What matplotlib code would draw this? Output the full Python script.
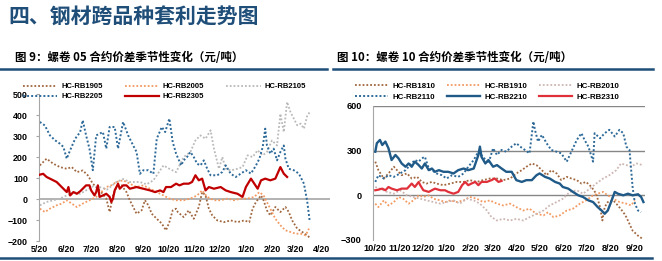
import numpy as np
import pandas as pd
import matplotlib
matplotlib.use('Agg')
import matplotlib.pyplot as plt
from matplotlib.lines import Line2D

plt.rcParams['font.family'] = ['Liberation Sans', 'DejaVu Sans']
plt.rcParams['font.weight'] = 'bold'
CJK = ['Noto Sans CJK SC', 'DejaVu Sans']

# ---------------- left panel: 05 contracts, x = days after 5/20 ----------------
rb1905_d = [0, 8, 16, 24, 32, 38, 44, 51, 57, 63, 67, 73, 79, 83, 87, 91, 97, 103, 107, 111,
            115, 121, 125, 129, 133, 139, 145, 150, 154, 158, 162, 164, 171, 177, 183, 189, 193, 197, 201, 205,
            211, 219, 227, 235, 243, 249, 253, 257, 263, 266, 270, 274, 280, 286, 292, 296, 300, 306, 312, 318, 322]
rb1905_v = [160, 192, 168, 152, 144, 152, 128, 136, 113, 73, 57, 33, 2, -62, 17, 57, 65, 33, -6, -38,
            -70, -54, -6, -30, -70, -94, -117, -149, -110, -54, -46, -62, -86, -54, -94, -38, 33, 17, -46, -78,
            -102, -110, -102, -110, -102, -110, -46, -14, 17, -6, -54, -78, -38, -62, -38, -62, -102, -141, -157, -173, -189]

rb2005_d = [0, 6, 12, 20, 26, 32, 38, 44, 51, 59, 67, 73, 79, 85, 91, 99, 107, 115, 123, 131,
            139, 147, 154, 162, 171, 179, 187, 193, 199, 207, 215, 223, 231, 239,
            247, 255, 261, 266, 270, 274, 280, 286, 292, 298, 304, 310, 316, 320]
rb2005_v = [-46, -62, -46, -30, -22, -6, -22, -38, -22, -6, 10, 33, 57, 65, 81, 89, 73, 57, 65, 49,
            33, 17, 2, -6, -6, 2, 17, 41, 10, -6, -6, 2, -6, 2,
            2, 10, 33, 17, -14, -46, -94, -125, -149, -157, -165, -165, -173, -141]

rb2105_d = [0, 8, 16, 24, 32, 40, 48, 55, 63, 71, 80, 91, 99, 107, 119, 127, 135, 147, 154, 162,
            166, 171, 179, 185, 191, 197, 203, 207, 213, 217, 221, 227, 235, 241, 247, 253, 259, 265, 270, 276,
            282, 286, 290, 294, 298, 302, 306, 310, 314, 318, 321]
rb2105_v = [-30, -14, -6, 2, 17, 33, 25, 41, 60, 57, 45, 81, 95, 81, 81, 70, 89, 160, 144, 128,
            160, 200, 224, 279, 303, 287, 327, 240, 144, 200, 144, 136, 144, 152, 208, 200, 232, 208, 224, 279,
            255, 406, 319, 462, 414, 383, 351, 359, 335, 398, 414]

rb2205_d = [0, 6, 12, 18, 24, 28, 32, 36, 42, 48, 51, 55, 59, 63, 67, 71, 75, 79, 83, 89,
            93, 99, 105, 111, 115, 119, 123, 129, 135, 139, 145, 149, 154, 158, 162, 168, 171, 175, 179, 183,
            187, 191, 195, 199, 203, 211, 217, 221, 227, 233, 239, 245, 251, 257, 261, 265, 268, 270, 274, 278,
            282, 286, 290, 292, 296, 302, 308, 314, 318, 321]
rb2205_v = [367, 350, 303, 280, 263, 248, 192, 232, 287, 319, 375, 303, 240, 137, 303, 311, 319, 240, 343, 343,
            240, 367, 303, 255, 224, 120, 137, 137, 120, 287, 343, 319, 383, 271, 216, 160, 184, 200, 224, 200,
            168, 160, 184, 144, 113, 113, 129, 160, 120, 105, 121, 137, 121, 160, 192, 248, 335, 255, 216, 240,
            184, 224, 255, 192, 144, 137, 121, 73, -14, -110]

rb2305_d = [0, 4, 8, 12, 16, 20, 24, 28, 32, 34, 36, 40, 44, 48, 51, 55, 59, 61, 65, 67,
            69, 71, 75, 79, 83, 85, 87, 89, 93, 95, 99, 103, 107, 115, 123, 131, 137, 143, 147, 150,
            156, 162, 166, 171, 177, 181, 185, 189, 193, 197, 201, 207, 215, 221, 227, 235, 241, 245, 251, 255,
            259, 263, 268, 274, 280, 286, 290, 294]
rb2305_v = [116, 120, 105, 97, 89, 81, 65, 49, 33, 57, 17, 33, 25, 37, 49, 65, 65, 41, 17, 33,
            65, 10, 17, 25, 10, -14, 2, 41, 73, 49, 65, 65, 49, 57, 49, 41, 33, 41, 33, 57,
            57, 73, 65, 73, 73, 81, 113, 89, 97, 41, 57, 49, 57, 41, 33, 25, 10, 57, 97, 73,
            49, 89, 97, 89, 97, 152, 121, 105]

# ---------------- right panel: 10 contracts, x = days after 10/20 ----------------
rb1810_d = [0, 4, 11, 17, 24, 28, 34, 41, 47, 54, 60, 66, 73, 79, 88, 97, 105, 114, 122, 131,
            139, 148, 157, 165, 174, 182, 189, 195, 202, 208, 215, 221, 227, 234, 240, 247, 253, 260, 266, 272,
            279, 285, 290, 293, 296, 300, 307, 313, 320, 324, 328, 332, 339, 345]
rb1810_v = [226, 169, 113, 147, 192, 169, 135, 147, 113, 124, 90, 79, 90, 79, 68, 79, 90, 90, 102, 90,
            102, 113, 113, 102, 113, 147, 169, 192, 214, 203, 169, 135, 169, 147, 102, 124, 113, 102, 79, 90,
            56, 11, -79, -169, -79, -45, -34, -68, -113, -147, -192, -237, -271, -293]

rb1910_d = [0, 4, 11, 17, 24, 30, 36, 43, 49, 56, 62, 69, 75, 84, 90, 97, 105, 114, 122, 131,
            139, 148, 157, 165, 174, 182, 191, 199, 208, 217, 223, 230, 238, 247, 255, 264, 272, 281, 287, 294,
            300, 307, 315, 324, 330, 335]
rb1910_v = [-56, -79, -34, -68, -45, -11, -23, -56, -34, 0, -11, 0, -23, -34, -45, -34, -45, -34, -11, -23,
            -45, -34, -56, -68, -56, -79, -102, -90, -124, -135, -113, -147, -135, -102, -90, -56, -34, 0, 11, 23,
            0, -23, -45, -56, -68, -34]

rb2010_d = [0, 6, 15, 24, 32, 41, 49, 58, 66, 75, 84, 92, 101, 109, 118, 127, 135, 144, 150, 157,
            165, 174, 182, 191, 199, 208, 217, 225, 234, 242, 251, 260, 268, 277, 285, 294, 302, 311, 317, 324,
            330, 337, 345]
rb2010_v = [56, 45, 23, 11, 34, 0, -11, -23, -34, -45, -56, -45, -34, -56, -23, -34, -56, -102, -147, -169,
            -158, -169, -158, -169, -147, -124, -102, -68, -45, -23, 23, 34, 11, 45, 79, 113, 135, 169, 214, 203,
            192, 214, 203]

rb2110_d = [0, 4, 11, 17, 24, 32, 39, 45, 51, 56, 60, 64, 69, 73, 79, 86, 92, 99, 107, 114,
            120, 127, 133, 139, 146, 152, 157, 163, 169, 176, 182, 187, 193, 199, 204, 206, 210, 215, 221, 227,
            234, 240, 247, 253, 260, 266, 270, 275, 281, 283, 290, 296, 302, 309, 315, 320, 324, 328, 332, 335,
            339, 343]
rb2110_v = [90, 135, 113, 135, 124, 147, 169, 203, 237, 226, 248, 259, 180, 169, 147, 135, 113, 135, 124, 147,
            192, 237, 293, 259, 214, 316, 271, 305, 293, 327, 350, 327, 305, 282, 496, 440, 361, 406, 350, 305,
            293, 282, 226, 293, 372, 417, 372, 327, 226, 417, 383, 417, 440, 395, 440, 417, 327, 305, 56, -56,
            -102, -113]

rb2210_d = [0, 2, 6, 9, 13, 17, 21, 26, 30, 34, 39, 43, 47, 51, 56, 60, 64, 69, 73, 77,
            82, 88, 94, 101, 107, 114, 120, 127, 133, 135, 137, 142, 146, 152, 157, 163, 169, 176, 182, 189,
            195, 202, 208, 212, 219, 225, 232, 238, 242, 249, 255, 262, 268, 275, 281, 287, 292, 296, 300, 305,
            309, 313, 320, 326, 332, 339, 343, 346]
rb2210_v = [293, 350, 372, 338, 361, 316, 237, 271, 248, 214, 192, 214, 192, 226, 203, 180, 214, 169, 180, 158,
            169, 158, 158, 147, 169, 180, 169, 180, 271, 327, 259, 214, 237, 192, 203, 180, 158, 158, 102, 90,
            102, 102, 135, 147, 124, 113, 90, 79, 56, 45, 23, 0, -11, -34, -45, -79, -102, -124, -102, -34,
            23, 11, 0, 11, 0, 7, -11, -45]

rb2310_d = [0, 4, 9, 13, 17, 21, 28, 34, 41, 47, 51, 56, 58, 62, 69, 73, 77, 84, 90, 94,
            101, 107, 112, 116, 120, 124, 129, 133, 137, 144, 150, 154, 159, 163]
rb2310_v = [34, 38, 45, 34, 56, 45, 34, 45, 45, 79, 56, 90, 68, 34, 23, 34, 45, 34, 34, 23,
            11, 23, 68, 90, 68, 79, 90, 68, 90, 90, 102, 113, 90, 97]

left_start = '2021-05-20'
right_start = '2021-10-20'

BROWN = '#A0673F'
ORANGE = '#F29A62'
LGREY = '#B9B9B9'
PINK = '#CDB6B2'
BLUE_DOT = '#2D6A99'
BLUE = '#1F5A88'
RED_L = '#C00000'
RED_R = '#E0303A'
NAVY = '#1F4E79'
DOT = (0, (1, 1.1))


def month_ticks(start):
    dates = pd.date_range(start, periods=12, freq=pd.DateOffset(months=1))
    pos = [(d - dates[0]).days for d in dates]
    labels = ['%d/%d' % (d.month, d.day) for d in dates]
    return pos, labels


fig = plt.figure(figsize=(6.62, 2.61), dpi=100)

# ---- left chart
ax1 = fig.add_axes([0.0589, 0.0766, 0.4396, 0.5632])
h = {}
h['HC-RB1905'], = ax1.plot(rb1905_d, rb1905_v, color=BROWN, lw=1.3, ls=DOT)
h['HC-RB2005'], = ax1.plot(rb2005_d, rb2005_v, color=ORANGE, lw=1.3, ls=DOT)
h['HC-RB2105'], = ax1.plot(rb2105_d, rb2105_v, color=LGREY, lw=1.3, ls=DOT)
h['HC-RB2205'], = ax1.plot(rb2205_d, rb2205_v, color=BLUE_DOT, lw=1.4, ls=DOT)
h['HC-RB2305'], = ax1.plot(rb2305_d, rb2305_v, color=RED_L, lw=1.6, zorder=5)
ax1.axhline(0, color='#A6A6A6', lw=1.2, zorder=1)
ax1.set_xlim(-1, 345)
ax1.set_ylim(-200, 500)
ax1.set_yticks(np.arange(-200, 501, 100))
pos, labels = month_ticks(left_start)
ax1.set_xticks(pos)
ax1.set_xticklabels(labels)
ax1.tick_params(axis='x', length=0, pad=3, labelsize=6.4)
ax1.tick_params(axis='y', length=2, color='#A6A6A6', width=0.8, pad=6, labelsize=6.4)
for s in ['top', 'right', 'bottom']:
    ax1.spines[s].set_visible(False)
ax1.spines['left'].set_color('#A6A6A6')
ax1.spines['left'].set_linewidth(0.8)
order = ['HC-RB1905', 'HC-RB2205', 'HC-RB2005', 'HC-RB2305', 'HC-RB2105']
fig.legend([h[k] for k in order], order, ncol=3, loc='upper left',
           bbox_to_anchor=(23 / 662, 1 - 83 / 261), frameon=False, fontsize=5.5,
           handlelength=4.5, handletextpad=0.5, columnspacing=2.9, labelspacing=0.35,
           borderpad=0, borderaxespad=0)

# ---- right chart
ax2 = fig.add_axes([0.5634, 0.0805, 0.4109, 0.5134])
g = {}
g['HC-RB1810'], = ax2.plot(rb1810_d, rb1810_v, color=BROWN, lw=1.3, ls=DOT)
g['HC-RB1910'], = ax2.plot(rb1910_d, rb1910_v, color=ORANGE, lw=1.3, ls=DOT)
g['HC-RB2010'], = ax2.plot(rb2010_d, rb2010_v, color=PINK, lw=1.3, ls=DOT)
g['HC-RB2110'], = ax2.plot(rb2110_d, rb2110_v, color=BLUE_DOT, lw=1.4, ls=DOT)
g['HC-RB2210'], = ax2.plot(rb2210_d, rb2210_v, color=BLUE, lw=1.7, zorder=5)
g['HC-RB2310'], = ax2.plot(rb2310_d, rb2310_v, color=RED_R, lw=1.6, zorder=6)
yt = [-300, 0, 300, 600]
for y in yt[1:]:
    ax2.axhline(y, color='#868686', lw=1.0, zorder=1)
ax2.set_xlim(-3, 348)
ax2.set_ylim(-300, 600)
ax2.set_yticks(yt)
pos, labels = month_ticks(right_start)
ax2.set_xticks(pos)
ax2.set_xticklabels(labels)
ax2.tick_params(axis='x', length=0, pad=3, labelsize=6.6)
ax2.tick_params(axis='y', length=0, pad=8, labelsize=6.6)
for s in ['top', 'right', 'bottom']:
    ax2.spines[s].set_visible(False)
ax2.spines['left'].set_color('#A6A6A6')
ax2.spines['left'].set_linewidth(0.8)
order = ['HC-RB1810', 'HC-RB2110', 'HC-RB1910', 'HC-RB2210', 'HC-RB2010', 'HC-RB2310']
fig.legend([g[k] for k in order], order, ncol=3, loc='upper left',
           bbox_to_anchor=(355 / 662, 1 - 82 / 261), frameon=False, fontsize=5.7,
           handlelength=4.2, handletextpad=0.5, columnspacing=1.5, labelspacing=0.5,
           borderpad=0, borderaxespad=0)

# ---- headings and rules
fig.text(8 / 662, 1 - 17 / 261, '四、钢材跨品种套利走势图', family=CJK, fontsize=15,
         fontweight='bold', color=NAVY, va='center', ha='left')
fig.text(15 / 662, 1 - 57 / 261, '图 9：螺卷 05 合约价差季节性变化（元/吨）', family=CJK,
         fontsize=8.3, fontweight='bold', color='black', va='center', ha='left')
fig.text(337 / 662, 1 - 57 / 261, '图 10：螺卷 10 合约价差季节性变化（元/吨）', family=CJK,
         fontsize=8.3, fontweight='bold', color='black', va='center', ha='left')
for x0, x1 in [(0, 327), (333, 653)]:
    fig.add_artist(Line2D([x0 / 662, x1 / 662], [1 - 69 / 261] * 2, color=NAVY, lw=1.8,
                          transform=fig.transFigure))
fig.add_artist(Line2D([0, 652 / 662], [1 - 258 / 261] * 2, color=NAVY, lw=1.8,
                      transform=fig.transFigure))

fig.savefig('out.png', dpi=100)
